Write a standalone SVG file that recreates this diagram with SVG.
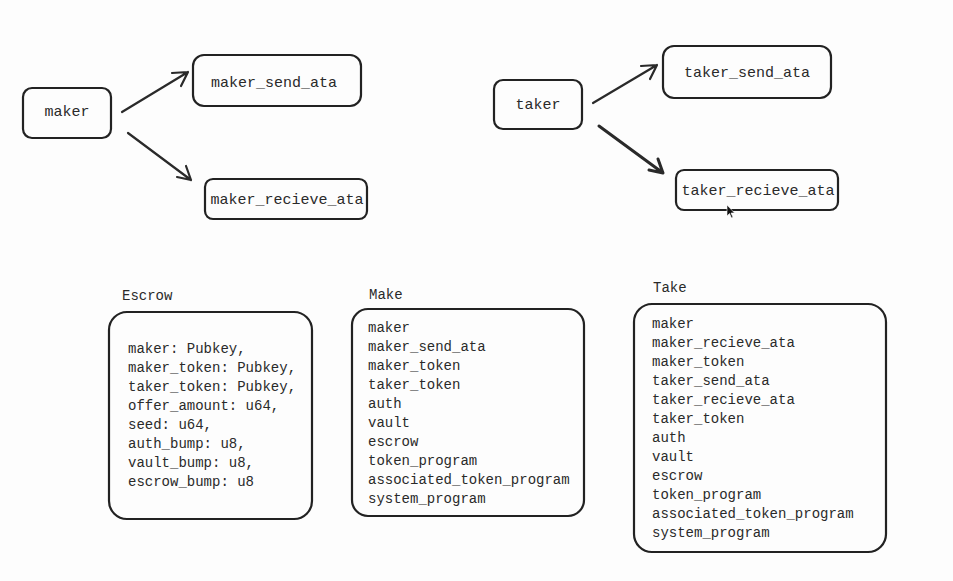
<svg xmlns="http://www.w3.org/2000/svg" width="953" height="581" viewBox="0 0 953 581">
<defs>
<style>
.bg{fill:#fdfdfd}
.box{fill:none;stroke:#222;stroke-width:2.2;}
.t{font-family:"Liberation Mono","DejaVu Sans Mono",monospace;font-size:14px;fill:#2a2a2a;}
.n{font-family:"Liberation Mono","DejaVu Sans Mono",monospace;font-size:15px;fill:#2a2a2a;text-anchor:middle;dominant-baseline:central;}
.edge{fill:none;stroke:#2a2a2a;stroke-width:2.2;stroke-linecap:round;stroke-linejoin:round;}
</style>
</defs>
<rect class="bg" x="0" y="0" width="953" height="581"/>
<g id="maker"><rect class="box" x="23" y="88" width="88" height="50" rx="9"/><text class="n" x="67" y="112">maker</text></g>
<g id="maker_send_ata"><rect class="box" x="193" y="55" width="168" height="51" rx="11"/><text class="n" x="274" y="83">maker_send_ata</text></g>
<g id="maker_recieve_ata"><rect class="box" x="205" y="179" width="162" height="40" rx="8"/><text class="n" x="287" y="200">maker_recieve_ata</text></g>
<g id="taker"><rect class="box" x="494" y="80" width="88" height="49" rx="9"/><text class="n" x="538" y="105">taker</text></g>
<g id="taker_send_ata"><rect class="box" x="663" y="46" width="168" height="52" rx="11"/><text class="n" x="747" y="73">taker_send_ata</text></g>
<g id="taker_recieve_ata"><rect class="box" x="676" y="170" width="162" height="40" rx="8"/><text class="n" x="758" y="191">taker_recieve_ata</text></g>
<g id="connectors">
<path class="edge" d="M122 112 L188 72 M172 73 L188 72 L181 86"/>
<path class="edge" d="M128 133 L191 180 M177 177 L191 180 L186 166"/>
<path class="edge" d="M593 103 L657 65 M641 66 L657 65 L650 79"/>
<path class="edge" style="stroke-width:3" d="M599 126 L663 173 M649 170 L663 173 L658 159"/>
</g>
<g id="escrow">
<text class="t" x="122" y="300">Escrow</text>
<rect class="box" x="109" y="312" width="203" height="207" rx="18"/>
<text class="t" x="128" y="353">maker: Pubkey,</text>
<text class="t" x="128" y="372">maker_token: Pubkey,</text>
<text class="t" x="128" y="391">taker_token: Pubkey,</text>
<text class="t" x="128" y="410">offer_amount: u64,</text>
<text class="t" x="128" y="429">seed: u64,</text>
<text class="t" x="128" y="448">auth_bump: u8,</text>
<text class="t" x="128" y="467">vault_bump: u8,</text>
<text class="t" x="128" y="486">escrow_bump: u8</text>
</g>
<g id="make">
<text class="t" x="369" y="299">Make</text>
<rect class="box" x="352" y="309" width="232" height="207" rx="16"/>
<text class="t" x="368" y="332">maker</text>
<text class="t" x="368" y="351">maker_send_ata</text>
<text class="t" x="368" y="370">maker_token</text>
<text class="t" x="368" y="389">taker_token</text>
<text class="t" x="368" y="408">auth</text>
<text class="t" x="368" y="427">vault</text>
<text class="t" x="368" y="446">escrow</text>
<text class="t" x="368" y="465">token_program</text>
<text class="t" x="368" y="484">associated_token_program</text>
<text class="t" x="368" y="503">system_program</text>
</g>
<g id="take">
<text class="t" x="653" y="292">Take</text>
<rect class="box" x="634" y="304" width="252" height="248" rx="18"/>
<text class="t" x="652" y="328">maker</text>
<text class="t" x="652" y="347">maker_recieve_ata</text>
<text class="t" x="652" y="366">maker_token</text>
<text class="t" x="652" y="385">taker_send_ata</text>
<text class="t" x="652" y="404">taker_recieve_ata</text>
<text class="t" x="652" y="423">taker_token</text>
<text class="t" x="652" y="442">auth</text>
<text class="t" x="652" y="461">vault</text>
<text class="t" x="652" y="480">escrow</text>
<text class="t" x="652" y="499">token_program</text>
<text class="t" x="652" y="518">associated_token_program</text>
<text class="t" x="652" y="537">system_program</text>
</g>
<path d="M727 205 L727 216 L729.5 213.5 L731.5 218 L733 217.3 L731 213 L734.5 213 Z" fill="#111" stroke="#fff" stroke-width="0.6"/>
</svg>
